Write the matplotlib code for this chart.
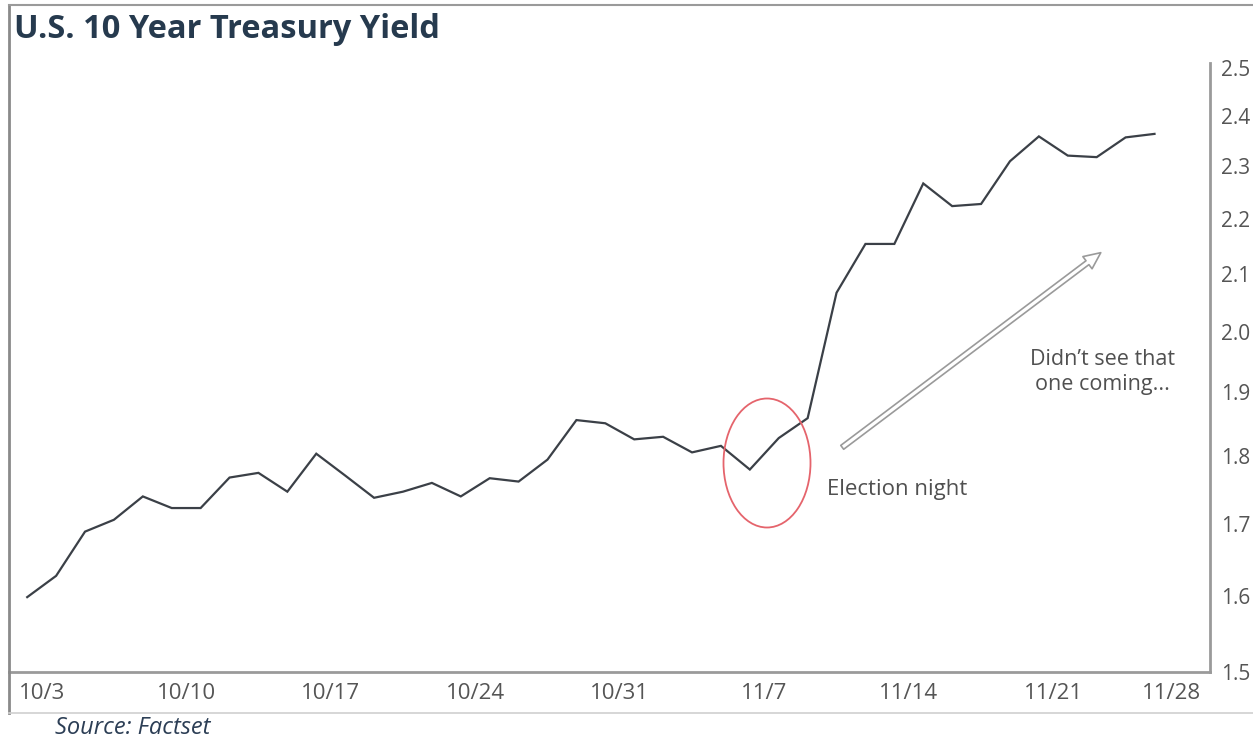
import matplotlib
matplotlib.use("Agg")
import matplotlib.pyplot as plt
from matplotlib.lines import Line2D
from matplotlib.patches import Ellipse, FancyArrowPatch
from matplotlib.ticker import FixedLocator, NullLocator

# ---- data ----
yields = [1.598, 1.627, 1.689, 1.706, 1.740, 1.723, 1.723, 1.768, 1.775, 1.747,
          1.804, 1.771, 1.738, 1.747, 1.760, 1.740, 1.767, 1.762, 1.795, 1.856,
          1.851, 1.826, 1.830, 1.806, 1.816, 1.780, 1.828, 1.859, 2.067, 2.154,
          2.154, 2.267, 2.224, 2.228, 2.310, 2.359, 2.321, 2.318, 2.357, 2.364]
x_labels = ["10/3", "10/10", "10/17", "10/24", "10/31", "11/7", "11/14", "11/21", "11/28"]
y_ticks = [1.5, 1.6, 1.7, 1.8, 1.9, 2.0, 2.1, 2.2, 2.3, 2.4, 2.5]

FONT = "Open Sans"
W, H = 1253, 739
fig = plt.figure(figsize=(W / 100, H / 100), dpi=100)
fig.patch.set_facecolor("white")

def fx(px):
    return px / W

def fy(py):
    return 1 - py / H

ax = fig.add_axes([fx(9), fy(672), fx(1210) - fx(9), fy(63) - fy(672)])
xs = list(range(len(yields)))
ax.plot(xs, yields, color="#3b4047", lw=1.6, solid_joinstyle="miter")
ax.set_yscale("log")
ax.set_ylim(1.5, 2.51)
ax.set_xlim(-0.63, 40.92)

ax.yaxis.set_major_locator(FixedLocator(y_ticks))
ax.yaxis.set_minor_locator(NullLocator())
ax.set_yticks(y_ticks)
ax.set_yticklabels([f"{v:.1f}" for v in y_ticks])
ax.yaxis.tick_right()
ax.tick_params(axis="y", length=0, pad=8, labelsize=15, labelcolor="#555555")

tick_pos = [5 * i + 0.5 for i in range(len(x_labels) - 1)] + [39.6]
ax.set_xticks(tick_pos)
ax.set_xticklabels(x_labels)
ax.tick_params(axis="x", length=0, pad=8, labelsize=16, labelcolor="#555555")
for lab in ax.get_xticklabels() + ax.get_yticklabels():
    lab.set_fontfamily(FONT)

for s in ["left", "top"]:
    ax.spines[s].set_visible(False)
ax.spines["bottom"].set_color("#9a9a9a")
ax.spines["bottom"].set_linewidth(2)
ax.spines["right"].set_color("#9a9a9a")
ax.spines["right"].set_linewidth(2)

# outer frame
fig.add_artist(Line2D([fx(9), fx(9)], [fy(5), fy(713)], color="#8a8a8a", lw=2))
fig.add_artist(Line2D([fx(9), fx(1253)], [fy(5), fy(5)], color="#9a9a9a", lw=1.5))
fig.add_artist(Line2D([fx(9), fx(1253)], [fy(713), fy(713)], color="#d0d0d0", lw=1.2))

# title & source
fig.text(fx(14), fy(30), "U.S. 10 Year Treasury Yield", fontsize=23.5, fontweight="bold",
         color="#263a4e", family=FONT, va="center", ha="left")
fig.text(fx(55), fy(728), "Source: Factset", fontsize=17, style="italic",
         color="#2c3e55", family=FONT, va="center", ha="left")

# annotations (figure pixel coords)
ell = Ellipse((fx(767), fy(463)), fx(87), 129 / H, transform=fig.transFigure,
              fill=False, edgecolor="#e5646c", lw=1.3)
fig.add_artist(ell)
fig.text(fx(827), fy(490), "Election night", fontsize=16, color="#505050",
         family=FONT, va="center", ha="left")
fig.text(fx(1102), fy(372), "Didn\u2019t see that\none coming...", fontsize=15.5,
         color="#505050", family=FONT, va="center", ha="center", linespacing=1.3)
arrow = FancyArrowPatch((fx(840), fy(449)), (fx(1103), fy(251)), transform=fig.transFigure,
                        arrowstyle="simple,head_length=12,head_width=11,tail_width=3.5",
                        mutation_scale=1, facecolor="white", edgecolor="#9a9a9a", lw=1.2)
fig.add_artist(arrow)

fig.savefig("out.png", dpi=100)
